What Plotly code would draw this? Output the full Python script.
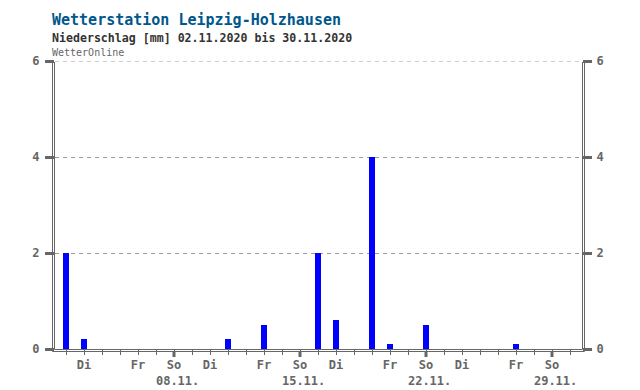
import plotly.graph_objects as go

# ---- data ----
dates = [
    "2020-11-02", "2020-11-03", "2020-11-04", "2020-11-05", "2020-11-06", "2020-11-07", "2020-11-08",
    "2020-11-09", "2020-11-10", "2020-11-11", "2020-11-12", "2020-11-13", "2020-11-14", "2020-11-15",
    "2020-11-16", "2020-11-17", "2020-11-18", "2020-11-19", "2020-11-20", "2020-11-21", "2020-11-22",
    "2020-11-23", "2020-11-24", "2020-11-25", "2020-11-26", "2020-11-27", "2020-11-28", "2020-11-29",
    "2020-11-30",
]
precip_mm = [
    2.0, 0.2, 0, 0, 0, 0, 0,
    0, 0, 0.2, 0, 0.5, 0, 0,
    2.0, 0.6, 0, 4.0, 0.1, 0, 0.5,
    0, 0, 0, 0, 0.1, 0, 0,
    0,
]
weekday_labels = [
    "", "Di", "", "", "Fr", "", "So",
    "", "Di", "", "", "Fr", "", "So",
    "", "Di", "", "", "Fr", "", "So",
    "", "Di", "", "", "Fr", "", "So",
    "",
]
date_labels = [
    "", "", "", "", "", "", "08.11.",
    "", "", "", "", "", "", "15.11.",
    "", "", "", "", "", "", "22.11.",
    "", "", "", "", "", "", "29.11.",
    "",
]
y_ticks = [0, 2, 4, 6]

title = "Wetterstation Leipzig-Holzhausen"
subtitle = "Niederschlag [mm] 02.11.2020 bis 30.11.2020"
source = "WetterOnline"

FONT = "DejaVu Sans Mono"
GREY = "#666666"

ticktext = []
for w, d in zip(weekday_labels, date_labels):
    if d:
        ticktext.append(w + "<br>\u00a0" + d)
    else:
        ticktext.append(w)

fig = go.Figure()
fig.add_trace(go.Bar(
    x=dates, y=precip_mm, width=8 * 3600 * 1000,
    marker=dict(color="#0000ff", line=dict(width=0)),
    hoverinfo="x+y", showlegend=False,
))
fig.add_trace(go.Scatter(
    x=[dates[0]], y=[0], yaxis="y2", mode="none", showlegend=False, hoverinfo="skip",
))

fig.update_layout(
    width=640, height=390,
    margin=dict(l=55, r=58, t=61, b=41, autoexpand=False),
    paper_bgcolor="white", plot_bgcolor="white",
    bargap=0,
    xaxis=dict(
        type="date", automargin=False,
        range=["2020-11-01 09:20", "2020-11-30 16:00"],
        tickmode="array", tickvals=dates, ticktext=ticktext,
        ticks="outside", ticklen=5, tickwidth=1, tickcolor=GREY,
        tickfont=dict(family=FONT, size=12, color=GREY, weight="bold"),
        showgrid=False, zeroline=False, showline=False,
        tickangle=0,
    ),
    yaxis=dict(
        automargin=False,
        range=[0, 6], tickmode="array", tickvals=y_ticks,
        ticks="outside", ticklen=9, tickwidth=2.5, tickcolor=GREY,
        tickfont=dict(family=FONT, size=12, color=GREY, weight="bold"),
        ticklabelstandoff=3,
        showgrid=True, gridcolor="#999999", gridwidth=1, griddash="4px,4px",
        zeroline=False, showline=False,
    ),
    yaxis2=dict(
        automargin=False,
        range=[0, 6], tickmode="array", tickvals=y_ticks,
        overlaying="y", side="right",
        ticks="outside", ticklen=9, tickwidth=2.5, tickcolor=GREY,
        tickfont=dict(family=FONT, size=12, color=GREY, weight="bold"),
        ticklabelstandoff=2,
        showgrid=False, zeroline=False, showline=False,
    ),
)

# titles
fig.add_annotation(text=title, xref="paper", yref="paper", x=-0.0095, y=1.144,
                   xanchor="left", yanchor="middle", showarrow=False,
                   font=dict(family=FONT, size=15, color="#00578a", weight="bold"))
fig.add_annotation(text=subtitle, xref="paper", yref="paper", x=-0.0095, y=1.081,
                   xanchor="left", yanchor="middle", showarrow=False,
                   font=dict(family=FONT, size=11.6, color="#333333", weight="bold"))
fig.add_annotation(text=source, xref="paper", yref="paper", x=-0.0095, y=1.031,
                   xanchor="left", yanchor="middle", showarrow=False,
                   font=dict(family=FONT, size=10, color=GREY))

# top gridline (at the top edge of the plot)
fig.add_shape(type="line", xref="paper", yref="y", x0=0, x1=1, y0=max(y_ticks), y1=max(y_ticks),
              line=dict(color="#999999", width=1, dash="4px,4px"), layer="above")

# double-line frame (left, bottom, right)
H = 288
W = 527
def pline(x0, y0, x1, y1):
    fig.add_shape(type="line", xref="paper", yref="paper",
                  xsizemode="pixel", ysizemode="pixel", xanchor=0, yanchor=0,
                  x0=x0, y0=y0, x1=x1, y1=y1,
                  line=dict(color=GREY, width=1), layer="above")

pline(-0.5, H - 1, -0.5, -0.5)
pline(-2.5, H - 1, -2.5, -2.5)
pline(W + 0.5, H - 1, W + 0.5, -0.5)
pline(W + 2.5, H - 1, W + 2.5, -2.5)
pline(-0.5, -0.5, W + 0.5, -0.5)
pline(-2.5, -2.5, W + 2.5, -2.5)

# heavy week ticks (Sundays)
for d, w in zip(dates, weekday_labels):
    if w == "So":
        fig.add_shape(type="line", xref="x", yref="paper", ysizemode="pixel", yanchor=0,
                      x0=d, x1=d, y0=-2, y1=-8,
                      line=dict(color=GREY, width=3), layer="above")

fig.write_html("out.html", config={"displayModeBar": False},
               post_script="document.body.style.margin='0';document.body.style.overflow='hidden';")
